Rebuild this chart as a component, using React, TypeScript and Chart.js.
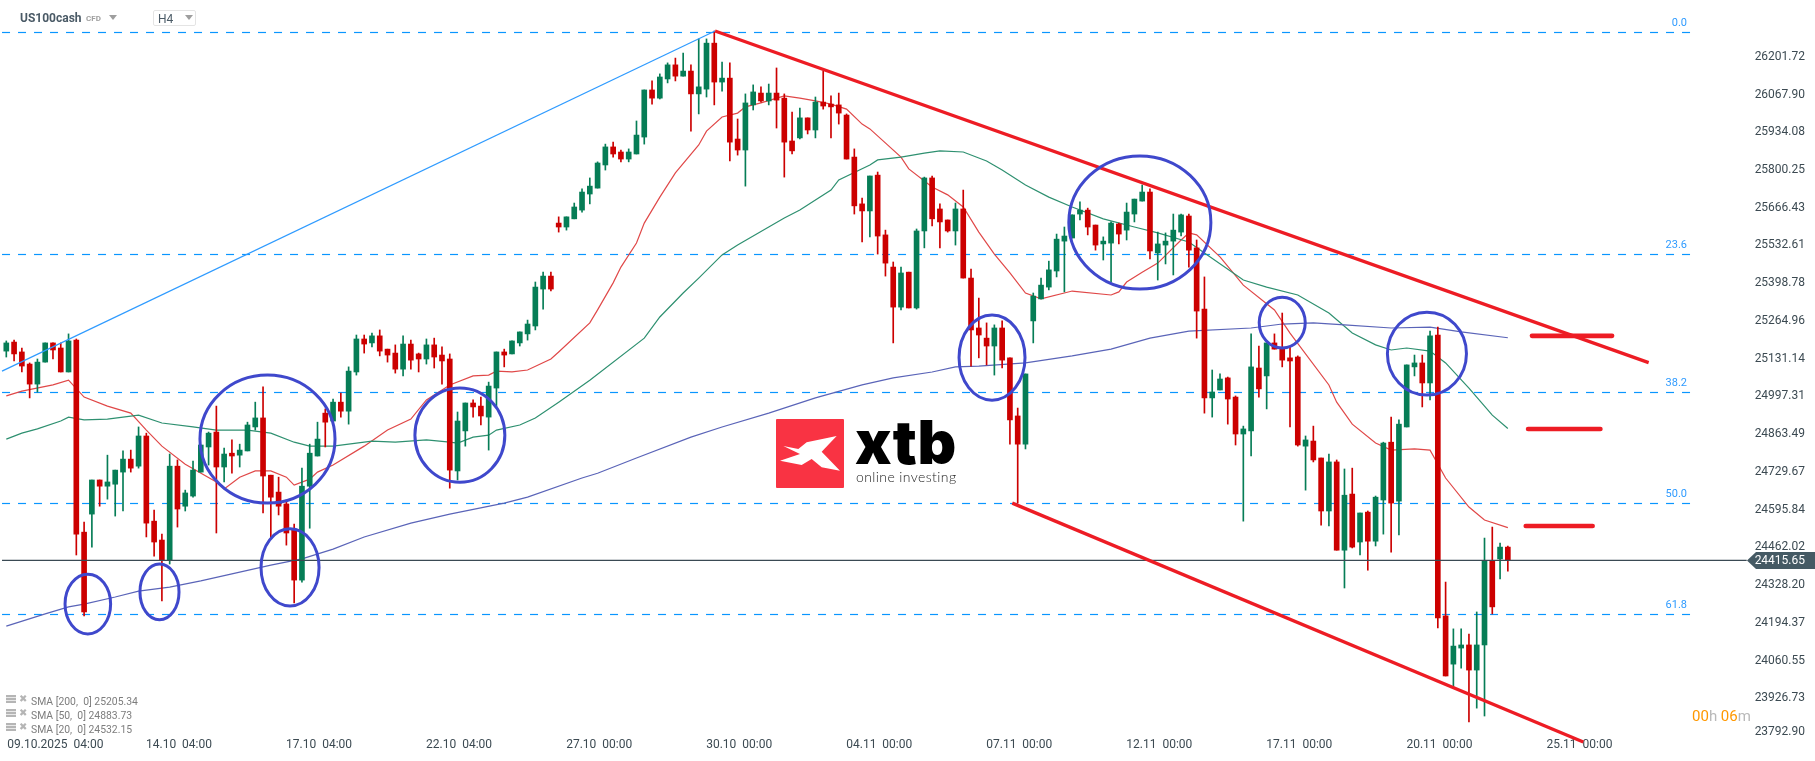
import React, { useEffect, useRef } from 'react';
import { Chart, registerables } from 'chart.js';

Chart.register(...registerables);

const opens = [
  25158,25190,25155,25112,25041,25119,25187,25169,25084,25197,
  24516,24580,24701,24679,24686,24729,24775,24750,24857,24555,
  24488,24417,24750,24608,24644,24729,24818,24871,24747,24796,
  24789,24804,24889,24921,24718,24658,24616,24523,24346,24679,
  24786,24938,24910,24977,24945,25084,25201,25187,25212,25165,
  25151,25094,25183,25148,25130,25180,25144,25130,24733,24875,
  24974,24963,24924,25027,25155,25148,25187,25219,25247,25378,
  25424,25612,25598,25627,25658,25715,25736,25818,25882,25864,
  25839,25857,25917,26084,26055,26123,26173,26133,26151,26070,
  26087,26250,26112,26126,25910,25871,26031,26073,26045,26073,
  26055,25903,25914,25985,25942,26041,26034,26031,25995,25846,
  25680,25655,25782,25570,25456,25314,25438,25311,25584,25772,
  25662,25623,25584,25662,25417,25240,25204,25176,25240,25134,
  24928,24828,25265,25343,25385,25442,25548,25559,25644,25658,
  25605,25538,25541,25609,25587,25644,25690,25722,25506,25534,
  25548,25580,25637,25524,25307,24992,25020,25063,24995,24864,
  24875,25098,25070,25187,25169,25134,25137,24821,24839,24779,
  24591,24765,24452,24651,24481,24587,24484,24630,24835,24626,
  24889,25102,25116,25045,25215,24219,24048,24105,24116,24027,
  24116,24413,24421,24463,
];
const highs = [
  25194,25197,25169,25116,25130,25187,25187,25187,25219,25201,
  24552,24701,24701,24789,24736,24804,24807,24889,24867,24594,
  24509,24793,24772,24665,24768,24825,24871,24963,24814,24843,
  24828,24906,24977,25031,24718,24711,24630,24545,24743,24828,
  24906,24953,24988,25009,25102,25215,25215,25222,25233,25165,
  25180,25212,25197,25151,25201,25204,25173,25148,24942,24974,
  24985,24995,25048,25155,25165,25194,25226,25268,25403,25438,
  25438,25634,25634,25683,25733,25772,25829,25892,25899,25871,
  25875,25974,26084,26116,26141,26180,26197,26215,26173,26265,
  26265,26293,26183,26180,25981,26070,26102,26095,26105,26162,
  26070,26006,26020,25985,26059,26151,26063,26073,25999,25875,
  25701,25779,25793,25587,25474,25456,25438,25591,25775,25779,
  25680,25623,25683,25729,25449,25346,25258,25251,25265,25134,
  24956,25077,25364,25417,25477,25573,25598,25641,25687,25665,
  25605,25563,25616,25612,25683,25697,25747,25733,25580,25577,
  25644,25644,25644,25552,25421,25091,25077,25066,24999,24892,
  25219,25176,25187,25219,25293,25173,25141,24857,24892,24779,
  24793,24772,24740,24743,24584,24591,24644,24835,24924,24914,
  25109,25144,25144,25229,25243,24339,24173,24173,24155,24233,
  24495,24534,24477,24467,
];
const lows = [
  25137,25123,25084,24992,25013,25119,25130,25084,25084,24435,
  24219,24463,24608,24633,24573,24591,24729,24743,24499,24431,
  24272,24403,24534,24591,24640,24729,24754,24513,24694,24725,
  24747,24804,24878,24584,24495,24577,24470,24265,24339,24530,
  24786,24818,24910,24924,24899,25073,25151,25173,25141,25119,
  25080,25070,25094,25084,25112,25098,25041,24672,24701,24821,
  24924,24896,24807,24960,25102,25148,25176,25197,25233,25307,
  25371,25580,25587,25627,25651,25680,25736,25800,25846,25829,
  25829,25857,25892,26034,26052,26109,26116,26133,25938,25999,
  26059,26031,26080,25832,25853,25743,26013,26041,26031,25949,
  25775,25857,25910,25928,25914,26016,25914,25963,25839,25644,
  25545,25563,25502,25424,25187,25304,25311,25307,25524,25602,
  25524,25580,25534,25417,25105,25134,25109,25073,25098,24828,
  24619,24811,25187,25343,25375,25421,25368,25559,25623,25570,
  25516,25481,25403,25538,25552,25616,25690,25485,25410,25467,
  25428,25566,25456,25204,24938,24924,25020,24899,24825,24555,
  24786,24995,24953,25165,25102,24889,24821,24665,24765,24541,
  24538,24452,24318,24460,24435,24381,24467,24509,24445,24506,
  24889,25070,24960,24985,24176,24006,23963,24034,23843,23892,
  23864,24226,24350,24378,
];
const closes = [
  25187,25148,25105,25041,25119,25187,25162,25084,25194,24509,
  24233,24701,24679,24694,24736,24775,24743,24857,24548,24481,
  24417,24750,24598,24655,24736,24825,24867,24747,24793,24786,
  24807,24896,24921,24715,24640,24608,24513,24346,24679,24796,
  24846,24906,24977,24945,25087,25201,25183,25212,25158,25144,
  25094,25183,25126,25130,25180,25137,25123,24736,24910,24974,
  24960,24928,25034,25155,25144,25194,25226,25254,25385,25424,
  25378,25598,25634,25669,25722,25743,25825,25882,25857,25839,
  25864,25924,26084,26055,26130,26173,26133,26151,26070,26095,
  26250,26112,26126,25899,25871,26038,26077,26045,26073,26048,
  25899,25868,25985,25942,26041,26027,26024,26002,25839,25673,
  25655,25779,25566,25470,25314,25435,25311,25584,25772,25627,
  25616,25584,25662,25417,25233,25215,25176,25240,25126,24914,
  24828,25077,25353,25392,25446,25555,25566,25641,25658,25598,
  25534,25548,25612,25573,25651,25697,25722,25513,25538,25548,
  25587,25641,25516,25300,24992,25013,25059,24988,24864,24882,
  25102,25024,25187,25165,25126,25123,24825,24843,24772,24591,
  24765,24452,24647,24463,24584,24484,24640,24832,24619,24899,
  25109,25116,25045,25212,24212,24006,24112,24116,24027,24116,
  24413,24251,24463,24415.65,
];

const sma20Bars = [0,2,6,8,10,13,16,18,20,23,27,28,30,32,34,36,37,39,40,42,46,49,52,54,57,60,62,63,65,67,70,71,75,76,78,79,81,82,84,86,89,90,92,94,95,97,100,102,104,106,108,110,111,115,116,119,121,123,125,127,129,131,133,137,142,143,144,146,148,151,152,153,156,159,163,165,170,171,173,176,178,181,183,185,188,190,193];
const sma20 = [24999,25016,25038,25055,24995,24963,24938,24878,24821,24757,24694,24669,24711,24733,24733,24711,24683,24704,24729,24754,24821,24878,24917,24985,25038,25070,25073,25087,25084,25091,25130,25155,25258,25304,25400,25456,25541,25612,25704,25790,25889,25938,25988,26002,26024,26038,26063,26055,26045,26034,26016,25963,25946,25846,25804,25740,25712,25669,25580,25502,25435,25364,25343,25371,25357,25368,25403,25438,25470,25552,25577,25570,25492,25392,25304,25222,25038,24977,24899,24832,24807,24811,24807,24708,24605,24559,24532.15];
const sma50Bars = [0,2,4,7,8,10,13,17,20,24,27,31,34,37,39,42,47,50,54,57,58,60,62,63,66,68,71,75,82,84,87,89,92,94,100,102,106,107,111,112,115,118,120,123,126,128,131,134,137,141,145,148,152,154,159,162,166,170,173,176,178,180,183,185,188,191,193];
const sma50 = [24846,24867,24882,24910,24924,24914,24917,24931,24903,24889,24878,24878,24867,24835,24821,24821,24839,24835,24843,24835,24832,24853,24860,24878,24896,24921,24977,25055,25204,25279,25364,25417,25499,25534,25630,25658,25729,25765,25818,25836,25846,25860,25868,25864,25832,25800,25747,25704,25669,25627,25598,25577,25545,25506,25410,25385,25357,25293,25222,25180,25162,25169,25158,25116,25027,24931,24883.73];
const sma200Bars = [0,5,8,10,14,17,21,25,29,34,38,42,46,52,57,64,67,74,76,81,88,92,98,104,110,114,119,122,125,131,137,142,147,152,160,164,168,172,178,183,187,193];
const sma200 = [24183,24226,24251,24261,24286,24307,24321,24343,24368,24399,24421,24456,24499,24548,24580,24619,24640,24708,24725,24779,24853,24889,24938,24992,25038,25063,25084,25102,25105,25116,25141,25165,25204,25229,25240,25254,25258,25251,25240,25243,25226,25205.34];

const priceTicks = [26201.72,26067.9,25934.08,25800.25,25666.43,25532.61,25398.78,25264.96,25131.14,24997.31,24863.49,24729.67,24595.84,24462.02,24328.2,24194.37,24060.55,23926.73,23808];
const priceTickLabels = ['26201.72','26067.90','25934.08','25800.25','25666.43','25532.61','25398.78','25264.96','25131.14','24997.31','24863.49','24729.67','24595.84','24462.02','24328.20','24194.37','24060.55','23926.73','23792.90'];
const dateTicks = [6.3,22.2,40.2,58.2,76.2,94.2,112.2,130.2,148.2,166.2,184.2,202.2];
const dateTickLabels = ['09.10.2025  04:00','14.10  04:00','17.10  04:00','22.10  04:00','27.10  00:00','30.10  00:00','04.11  00:00','07.11  00:00','12.11  00:00','17.11  00:00','20.11  00:00','25.11  00:00'];

const fibLevels = [26287.76,25500.55,25011.2,24617.6,24224];
const fibLabels = ['0.0','23.6','38.2','50.0','61.8'];
const lastPrice = 24415.65;

// hand drawn trend lines and marks, [bar, price] ends
const swingLine = [[-0.55,25087],[91.1,26293]];
const channelTop = [[91.1,26293],[211.1,25117]];
const channelBottom = [[129.3,24619],[202.7,23772]];
const targetLevels = [
  [[196.1,25212],[206.4,25212]],
  [[195.6,24882],[204.9,24882]],
  [[195.3,24538],[203.9,24538]],
];
// centre bar, centre price, half width in bars, half height in price
const circles = [
  [10.48,24261,2.93,106],
  [19.69,24304,2.51,99],
  [36.47,24391,3.73,137],
  [33.57,24846,8.68,227],
  [58.3,24860,5.78,167],
  [126.7,25135,4.24,151],
  [145.7,25614,9.13,236],
  [164,25259,2.96,90],
  [182.6,25149,5.08,147],
];

const GREEN = '#067d56';
const RED = '#cc0000';
const TREND = '#ed1c24';
const FIB = '#0a96ff';
const SLATE = '#455a64';

const segment = (ends: number[][]) => ends.map(([x, y]) => ({ x, y }));
const series = (bars: number[], values: number[]) => bars.map((x, i) => ({ x, y: values[i] }));

const lineSet = (data: { x: number; y: number }[], color: string, width: number, order: number, extra = {}) => ({
  type: 'line' as const,
  data,
  borderColor: color,
  borderWidth: width,
  pointRadius: 0,
  tension: 0,
  order,
  ...extra,
});

const overlayPlugin = {
  id: 'overlay',
  afterDraw(chart: any) {
    const { ctx, scales } = chart;
    const { x, y } = scales;
    ctx.save();

    // fib level captions
    ctx.font = '11px Roboto';
    ctx.fillStyle = '#2f9bff';
    ctx.textAlign = 'right';
    ctx.textBaseline = 'middle';
    fibLevels.forEach((level, i) => {
      ctx.fillText(fibLabels[i], 1687, y.getPixelForValue(level) - 9.5);
    });

    // blue circles
    ctx.strokeStyle = '#3f48cc';
    ctx.lineWidth = 3;
    circles.forEach(([bar, price, rx, ry]) => {
      const cx = x.getPixelForValue(bar);
      const cy = y.getPixelForValue(price);
      ctx.beginPath();
      ctx.ellipse(cx, cy, x.getPixelForValue(bar + rx) - cx, cy - y.getPixelForValue(price + ry), 0, 0, Math.PI * 2);
      ctx.stroke();
    });

    // last price tag
    const py = y.getPixelForValue(lastPrice);
    ctx.fillStyle = SLATE;
    ctx.beginPath();
    ctx.moveTo(1747, py);
    ctx.lineTo(1756, py - 8.5);
    ctx.lineTo(1815, py - 8.5);
    ctx.lineTo(1815, py + 8.5);
    ctx.lineTo(1756, py + 8.5);
    ctx.closePath();
    ctx.fill();
    ctx.fillStyle = '#ffffff';
    ctx.font = '12px Roboto';
    ctx.textAlign = 'right';
    ctx.fillText(lastPrice.toFixed(2), 1805, py + 1);
    ctx.restore();
  },
};

const CandleChart: React.FC = () => {
  const canvasRef = useRef<HTMLCanvasElement>(null);

  useEffect(() => {
    if (!canvasRef.current) return;
    const candleColors = opens.map((o, i) => (closes[i] >= o ? GREEN : RED));

    const chart = new Chart(canvasRef.current, {
      type: 'bar',
      data: {
        datasets: [
          ...fibLevels.map((level) =>
            lineSet(segment([[-0.55, level], [217, level]]), FIB, 1.2, 9, { borderDash: [8, 8] })
          ),
          lineSet(series(sma200Bars, sma200), '#5a64b8', 1.2, 8),
          lineSet(series(sma50Bars, sma50), '#2e9070', 1.2, 8),
          lineSet(series(sma20Bars, sma20), '#e04848', 1.2, 8),
          {
            data: highs.map((h, i) => ({ x: i, y: [lows[i], h] })),
            backgroundColor: candleColors,
            barThickness: 1,
            grouped: false,
            order: 6,
          },
          {
            data: opens.map((o, i) => ({ x: i, y: [o, closes[i]] })),
            backgroundColor: candleColors,
            barThickness: 5,
            grouped: false,
            order: 5,
          },
          lineSet(segment([[-0.55, lastPrice], [223.7, lastPrice]]), '#3a4a54', 1.2, 4),
          lineSet(segment(swingLine), '#2f9bff', 1.2, 3),
          lineSet(segment(channelTop), TREND, 3.3, 2),
          lineSet(segment(channelBottom), TREND, 3.3, 2),
          ...targetLevels.map((ends) => lineSet(segment(ends), TREND, 4.6, 1, { borderCapStyle: 'round' })),
        ] as any,
      },
      options: {
        animation: false,
        responsive: false,
        events: [],
        layout: { padding: 0 },
        plugins: { legend: { display: false }, tooltip: { enabled: false } },
        scales: {
          x: {
            type: 'linear',
            offset: false,
            min: -0.81,
            max: 232.48,
            grid: { display: false, drawTicks: false },
            border: { display: false },
            afterBuildTicks: (scale: any) => {
              scale.ticks = dateTicks.map((value) => ({ value }));
            },
            afterFit: (scale: any) => {
              scale.height = 0;
              scale.paddingLeft = 0;
              scale.paddingRight = 0;
            },
            ticks: {
              autoSkip: false,
              maxRotation: 0,
              mirror: true,
              padding: 9,
              color: '#3c4a52',
              font: { family: 'Roboto', size: 12 },
              callback: (_v: any, i: number) => dateTickLabels[i],
            },
          },
          y: {
            position: 'right',
            min: 23704.5,
            max: 26403,
            grid: { display: false, drawTicks: false },
            border: { display: false },
            afterBuildTicks: (scale: any) => {
              scale.ticks = priceTicks.map((value) => ({ value }));
            },
            afterFit: (scale: any) => {
              scale.paddingTop = 0;
              scale.paddingBottom = 0;
            },
            ticks: {
              autoSkip: false,
              mirror: true,
              padding: -10,
              color: '#3c4a52',
              font: { family: 'Roboto', size: 12 },
              callback: (_v: any, i: number) => priceTickLabels[i],
            },
          },
        },
      } as any,
      plugins: [overlayPlugin],
    });

    return () => chart.destroy();
  }, []);

  return <canvas ref={canvasRef} width={1815} height={761} style={{ display: 'block' }} />;
};

const abs = (left: number, top: number, extra: React.CSSProperties = {}): React.CSSProperties => ({
  position: 'absolute',
  left,
  top,
  whiteSpace: 'pre',
  ...extra,
});

const Caret: React.FC<{ left: number; top: number }> = ({ left, top }) => (
  <div
    style={abs(left, top, {
      width: 0,
      height: 0,
      borderLeft: '4px solid transparent',
      borderRight: '4px solid transparent',
      borderTop: '5px solid #9e9e9e',
    })}
  />
);

const smaLegend = ['SMA [200,  0] 25205.34', 'SMA [50,  0] 24883.73', 'SMA [20,  0] 24532.15'];

export default function App() {
  return (
    <div style={{ position: 'absolute', left: 0, top: 0, width: 1815, height: 761, overflow: 'hidden', background: '#fff', fontFamily: 'Roboto' }}>
      <CandleChart />

      <div style={abs(20, 11, { fontSize: 12, fontWeight: 700, color: '#4a5a66' })}>US100cash</div>
      <div style={abs(86, 14, { fontSize: 8, fontWeight: 700, color: '#a0a0a0' })}>CFD</div>
      <Caret left={109} top={15} />
      <div style={abs(153, 10, { width: 43, height: 16, boxSizing: 'border-box', border: '1px solid #e4e4e4', borderRadius: 2 })} />
      <div style={abs(158, 12, { fontSize: 12, color: '#4a5a66' })}>H4</div>
      <Caret left={185} top={15} />

      {smaLegend.map((text, i) => (
        <React.Fragment key={text}>
          <div
            style={abs(6, 695 + i * 14, {
              width: 10,
              height: 8,
              background: 'repeating-linear-gradient(#b5b5b5 0 2px, #e8e8e8 2px 3px)',
            })}
          />
          <div style={abs(19, 693 + i * 14, { fontSize: 10, color: '#b5b5b5', fontFamily: 'DejaVu Sans' })}>✖</div>
          <div style={abs(31, 695 + i * 14, { fontSize: 10.4, color: '#7d7d7d' })}>{text}</div>
        </React.Fragment>
      ))}

      <div style={abs(776, 419, { width: 68, height: 69, background: '#f93343', borderRadius: 1 })}>
        <svg width={68} height={69} viewBox="18 27 204 207" style={{ display: 'block' }}>
          <polygon fill="#fff" points="40,108 85,117 110,97 200,78 155,125 210,182 155,172 125,147 95,165 30,152 90,132" />
        </svg>
      </div>
      <div style={abs(855, 407, { fontFamily: 'Inter', fontWeight: 900, fontSize: 60, color: '#000', lineHeight: '70px', letterSpacing: 0.5 })}>xtb</div>
      <div style={abs(856, 467, { fontFamily: 'Lato', fontWeight: 300, fontSize: 14, color: '#222', lineHeight: '20px', letterSpacing: 0.4 })}>online investing</div>

      <div style={abs(1692, 707, { fontSize: 15, color: '#b9b9b9' })}>
        <span style={{ color: '#ff9800' }}>00</span>h <span style={{ color: '#ff9800' }}>06</span>m
      </div>
    </div>
  );
}
